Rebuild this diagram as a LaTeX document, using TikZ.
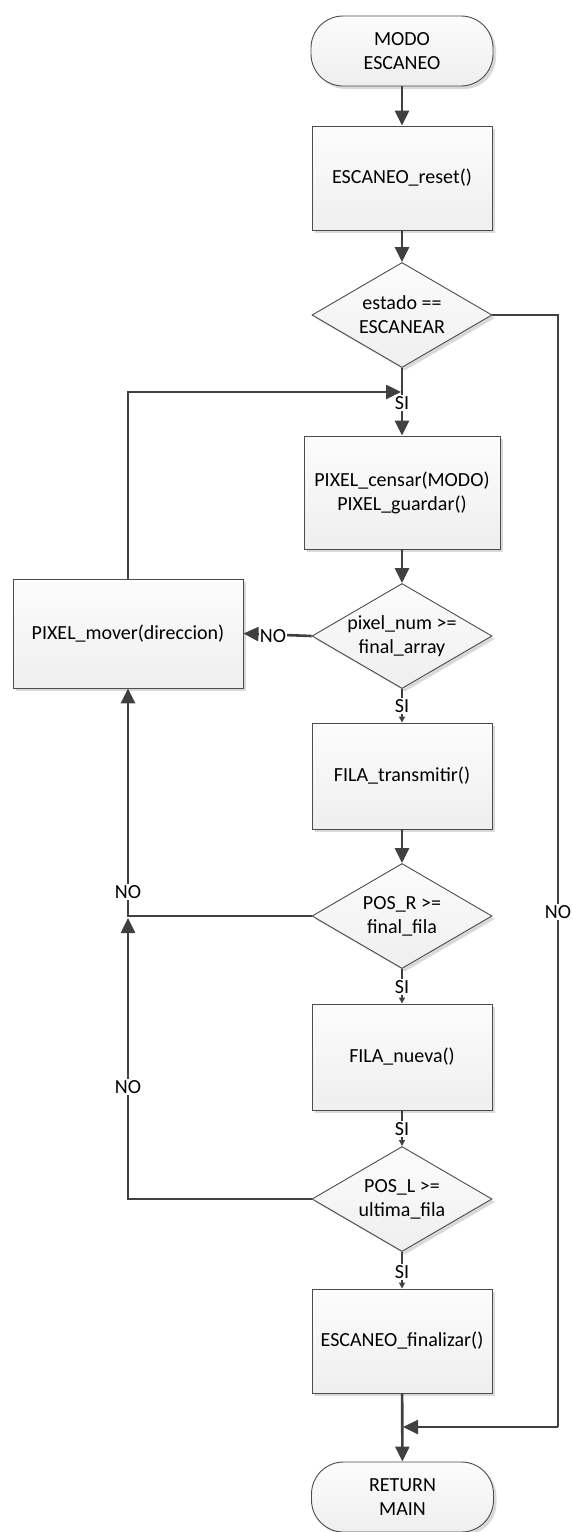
\documentclass[tikz,border=0pt]{standalone}
\usepackage{fontspec}
\setmainfont{Carlito}
\usetikzlibrary{arrows.meta,shapes.geometric,shadows}
\begin{document}
\begin{tikzpicture}[x=1pt,y=-1pt,
  font=\fontsize{20}{24}\selectfont,
  shp/.style={draw=black!70, line width=0.9pt, top color=gray!2, bottom color=gray!13,
    drop shadow={shadow xshift=3pt, shadow yshift=-3pt, fill=gray!30, opacity=1}},
  box/.style={shp, rectangle, align=center, inner sep=0pt},
  term/.style={shp, rectangle, rounded corners=32pt, align=center, inner sep=0pt, minimum width=182pt, minimum height=70pt},
  dia/.style={shp, diamond, inner sep=0pt, minimum width=180pt, minimum height=105pt},
  thk/.style={line width=2.6pt, draw=black!75, -{Triangle[length=15pt,width=14pt]}},
  thn/.style={line width=1.3pt, draw=black!75, -{Triangle[length=6pt,width=6pt]}},
  plain/.style={line width=2.6pt, draw=black!75},
  lab/.style={fill=white, inner sep=1pt}
]
\useasboundingbox (0,0) rectangle (571,1532);

% nodes
\node[term] (start) at (402,51) {MODO\\ESCANEO};
\node[box, minimum width=180pt, minimum height=104pt] (reset) at (402,178) {ESCANEO\_reset()};
\node[dia, label={[align=center]center:{estado ==\\ESCANEAR}}] (d1) at (402,315) {};
\node[box, minimum width=196pt, minimum height=113pt] (censar) at (402,492.5) {PIXEL\_censar(MODO)\\PIXEL\_guardar()};
\node[dia, label={[align=center]center:{pixel\_num >=\\final\_array}}] (d2) at (402,636) {};
\node[box, minimum width=230pt, minimum height=109pt] (mover) at (128,633.5) {PIXEL\_mover(direccion)};
\node[box, minimum width=180pt, minimum height=106pt] (trans) at (402,776) {FILA\_transmitir()};
\node[dia, label={[align=center]center:{POS\_R >=\\final\_fila}}] (d3) at (402,916) {};
\node[box, minimum width=180pt, minimum height=106pt] (nueva) at (402,1057) {FILA\_nueva()};
\node[dia, label={[align=center]center:{POS\_L >=\\ultima\_fila}}] (d4) at (402,1199) {};
\node[box, minimum width=180pt, minimum height=104pt] (fin) at (402,1341) {ESCANEO\_finalizar()};
\node[term] (ret) at (402.5,1497) {RETURN\\MAIN};

\coordinate (j1) at (401,392);
\coordinate (j2) at (128,918);
\coordinate (r1) at (558,1427);
\coordinate (j3) at (403,1427);

% connectors
\draw[thk] (start) -- (reset);
\draw[thk] (reset) -- (d1);
\draw[thk] (d1.south) -- (censar.north);
\draw[thk] (mover.north) |- (j1);
\draw[thk] (censar) -- (d2);
\draw[thk] (d2.west) -- (mover.east);
\draw[thn] (d2.south) -- (trans.north);
\draw[thk] (trans) -- (d3);
\draw[thk] (d3.west) -| (mover.south);
\draw[thn] (d3.south) -- (nueva.north);
\draw[thn] (nueva.south) -- (d4.north);
\draw[thk] (d4.west) -| (j2);
\draw[thn] (d4.south) -- (fin.north);
\draw[thk] (fin) -- (ret);
\draw[plain] (d1.east) -| (r1);
\draw[thk] (r1) -- (j3);

% labels
\node[lab] (l1) at (402,403) {SI};
\node[lab] (l2) at (273,636) {NO};
\node[lab] (l3) at (402,706) {SI};
\node[lab] (l4) at (128,892) {NO};
\node[lab] (l5) at (402,987) {SI};
\node[lab] (l6) at (402,1129) {SI};
\node[lab] (l7) at (128,1087) {NO};
\node[lab] (l8) at (402,1272) {SI};
\node[lab] (l9) at (558,912) {NO};
\end{tikzpicture}
\end{document}
